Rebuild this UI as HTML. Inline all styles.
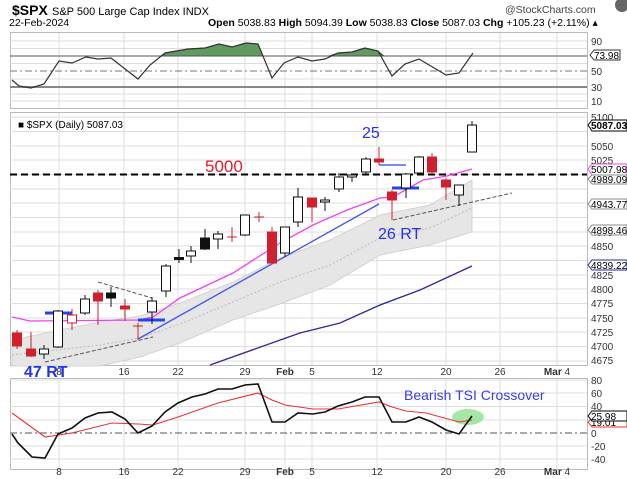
<!DOCTYPE html>
<html><head><meta charset="utf-8"><style>
body{margin:0;background:#fff}
svg{display:block;font-family:"Liberation Sans",sans-serif}
</style></head><body>
<svg width="627" height="479" viewBox="0 0 627 479" xmlns="http://www.w3.org/2000/svg">
<rect width="627" height="479" fill="#fff"/>
<text x="12" y="15" font-size="14" font-weight="bold">$SPX</text>
<text x="52" y="15" font-size="11">S&amp;P 500 Large Cap Index  INDX</text>
<text x="9" y="26" font-size="10.5">22-Feb-2024</text>
<text x="505" y="13" font-size="10.5" fill="#444">@StockCharts.com</text>
<text x="208" y="26" font-size="10.5"><tspan font-weight="bold">Open</tspan> 5038.83 <tspan font-weight="bold">High</tspan> 5094.39 <tspan font-weight="bold">Low</tspan> 5038.83 <tspan font-weight="bold">Close</tspan> 5087.03 <tspan font-weight="bold">Chg</tspan> +105.23 (+2.11%) ▴</text>
<circle cx="622" cy="5" r="7" fill="#666"/>

<g fill="none" stroke="#bbb" stroke-width="1">
<rect x="10.5" y="32.5" width="577" height="76"/>
<rect x="10.5" y="112.5" width="577" height="253"/>
<rect x="10.5" y="378.5" width="577" height="91"/>
</g>
<g stroke="#ddd" stroke-width="1">
<path d="M59 33V108M124 33V108M178 33V108M245 33V108M285 33V108M312 33V108M377 33V108M446 33V108M500 33V108M557 33V108"/>
<path d="M59 113V365M124 113V365M178 113V365M245 113V365M285 113V365M312 113V365M377 113V365M446 113V365M500 113V365M557 113V365"/>
<path d="M59 379V469M124 379V469M178 379V469M245 379V469M285 379V469M312 379V469M377 379V469M446 379V469M500 379V469M557 379V469"/>
<path d="M10 41H587M10 101H587M10 48.5H587M10 63.5H587M10 79H587M10 94H587"/>
<path d="M10 117H587M10 131.5H587M10 146H587M10 160H587M10 174.5H587M10 189H587M10 203H587M10 217.5H587M10 232H587M10 246H587M10 260.5H587M10 275H587M10 289H587M10 303.5H587M10 318H587M10 332H587M10 346.5H587M10 361H587"/>
<path d="M10 380H587M10 393H587M10 406.5H587M10 420H587M10 446H587M10 459H587"/>
</g>

<path d="M163 56 L165 53 188 49 205 48 219 44 232 47 246 43 258 44 263 56Z M329 56 L338 53 352 52 365 48 378 51 384 56Z" fill="#5f9a5f" stroke="#333" stroke-width="0.8"/>
<path d="M10 56H587" stroke="#555" stroke-width="1"/>
<path d="M10 87H587" stroke="#888" stroke-width="2"/>
<path d="M10 71H587" stroke="#777" stroke-dasharray="7 3 2 3"/>
<polyline fill="none" stroke="#333" stroke-width="1.2" points="12,80 19,86 31,88 44,84 59,61 72,63 86,57 98,59 111,58 138,79 150,65 165,53 188,49 205,48 219,44 232,47 246,43 258,44 272,78 284,63 298,57 312,61 325,59 338,53 352,52 365,48 378,51 392,76 405,64 419,59 446,75 459,73 473,53"/>
<g font-size="10" fill="#333">
<text x="591" y="45">90</text><text x="591" y="75">50</text><text x="591" y="91">30</text><text x="591" y="105">10</text>
</g>
<path d="M590 55 L594 50 H620 V60 H594Z" fill="#fff" stroke="#333"/>
<text x="594" y="59" font-size="10">73.98</text>

<polygon fill="#e6e6e6" stroke="#ccc" stroke-width="0.8" points="12,340 60,330 100,322 140,316 180,303 233,282 280,258 330,240 380,215 430,205 472,180 472,232 430,245 380,255 330,285 280,304 233,320 180,343 140,357 100,366 12,366"/>
<polyline fill="none" stroke="#bbb" stroke-dasharray="2 2" points="12,355 100,345 140,338 180,324 233,302 280,282 330,265 380,238 430,228 472,208"/>
<path d="M10 174.5H587" stroke="#000" stroke-width="2" stroke-dasharray="7 4"/>
<text x="205" y="172" font-size="17" fill="#e0202a">5000</text>
<polyline fill="none" stroke="#ee44ee" stroke-width="1.3" points="12,317 30,321 138,320 153,317 180,298 233,273 280,243 313,225 347,210 380,198 393,197 423,180 447,176 472,169"/>
<path d="M138 339 L379 204" stroke="#4455ee" stroke-width="1.3"/>
<polyline fill="none" stroke="#2a2a99" stroke-width="1.3" points="210,365 300,333 340,323 380,305 420,290 472,266"/>
<g stroke="#555" stroke-width="1" stroke-dasharray="4 2" fill="none">
<path d="M98 282L152 298M45 362L153 337M393 220L512 193"/>
</g>
<g stroke="#2244ee">
<path d="M45 313H72M138 320H165M392 188H419" stroke-width="3"/>
<path d="M379 165H406" stroke-width="1.3"/>
</g>

<g stroke-width="1">
<g stroke="#d0202e" fill="#d0202e">
<path d="M17 330V349M31 332V357M72 309V330M98 290V325M125 299V321M138 323V340M259 212V222M232 227V242M272 227V263M312 198V222M379 147V165M392 190V220M432 153V174M446 178V200"/>
<rect x="12.5" y="333" width="9" height="13"/><rect x="26.5" y="349" width="9" height="7"/>
<rect x="67.5" y="315" width="9" height="8" fill="#fff"/>
<rect x="93.5" y="293" width="9" height="8"/><rect x="120.5" y="306" width="9" height="3"/>
<path d="M133 326H143M227 237H237M254 217H264"/>
<rect x="267.5" y="232" width="9" height="31"/><rect x="307.5" y="198" width="9" height="9"/>
<rect x="374.5" y="159" width="9" height="3"/><rect x="387.5" y="192" width="9" height="8"/>
<rect x="427.5" y="157" width="9" height="15"/><rect x="441.5" y="180" width="9" height="7"/>
</g>
<g stroke="#111" fill="#fff">
<path d="M44 345V359M58 310V348M85 295V315M111 287V307M152 297V324M166 264V297M179 249V263M191 246V263M205 229V250M218 231V249M245 215V236M285 227V257M298 188V227M325 197V211M339 173V192M352 174V182M366 157V174M406 173V198M419 156V173M459 185V206M472 121V152"/>
<rect x="39.5" y="349" width="9" height="5"/><rect x="53.5" y="311" width="9" height="36"/>
<rect x="80.5" y="299" width="9" height="14"/><rect x="106.5" y="293" width="9" height="5" fill="#111"/>
<rect x="147.5" y="301" width="9" height="11"/><rect x="161.5" y="266" width="9" height="25"/>
<rect x="174.5" y="257.5" width="9" height="2" fill="#111"/><rect x="186.5" y="251" width="9" height="5"/>
<rect x="200.5" y="238" width="9" height="11" fill="#111"/><rect x="213.5" y="234" width="9" height="5"/>
<rect x="240.5" y="215" width="9" height="20"/><rect x="280.5" y="227" width="9" height="26"/>
<rect x="293.5" y="197" width="9" height="25"/><rect x="320.5" y="200" width="9" height="2"/>
<rect x="334.5" y="177" width="9" height="12"/><rect x="347.5" y="175" width="9" height="2"/>
<rect x="361.5" y="159" width="9" height="13"/><rect x="401.5" y="174" width="9" height="14"/>
<rect x="414.5" y="157" width="9" height="16"/><rect x="454.5" y="185" width="9" height="10"/>
<rect x="467.5" y="125" width="9" height="27"/>
</g>
</g>
<text x="362" y="138" font-size="16" fill="#2233ee">25</text>
<text x="378" y="239" font-size="16" fill="#2233ee">26 RT</text>
<text x="24" y="377" font-size="16" font-weight="bold" fill="#2233ee">47 RT</text>
<text x="18" y="128" font-size="10">■ $SPX (Daily) 5087.03</text>

<g font-size="10" fill="#333">
<text x="591" y="121">5100</text><text x="591" y="150">5050</text><text x="591" y="164">5025</text>
<text x="591" y="236">4875</text><text x="591" y="250">4850</text><text x="591" y="279">4825</text><text x="591" y="293">4800</text><text x="591" y="307">4775</text><text x="591" y="322">4750</text><text x="591" y="336">4725</text><text x="591" y="350">4700</text><text x="591" y="364">4675</text>
</g>
<g font-size="10">
<path d="M588 125 L592 120 H627 V131 H592Z" fill="#fff" stroke="#000"/><text x="591" y="129" font-weight="bold">5087.03</text>
<path d="M588 169 L592 164 H627 V175 H592Z" fill="#fff" stroke="#ee44ee"/><text x="591" y="173">5007.98</text>
<path d="M588 179 L592 175 H627 V184 H592Z" fill="#fff" stroke="#888"/><text x="591" y="183">4989.09</text>
<path d="M588 204 L592 199 H627 V209 H592Z" fill="#fff" stroke="#888"/><text x="591" y="208">4943.77</text>
<path d="M588 230 L592 225 H627 V235 H592Z" fill="#fff" stroke="#888"/><text x="591" y="234">4898.46</text>
<path d="M588 265 L592 260 H627 V270 H592Z" fill="#fff" stroke="#2a2a99"/><text x="591" y="269">4839.22</text>
</g>
<g font-size="10" fill="#333" text-anchor="middle">
<text x="59" y="375">8</text><text x="124" y="375">16</text><text x="178" y="375">22</text><text x="245" y="375">29</text><text x="285" y="375" font-weight="bold">Feb</text><text x="312" y="375">5</text><text x="377" y="375">12</text><text x="446" y="375">20</text><text x="500" y="375">26</text><text x="557" y="375"><tspan font-weight="bold">Mar</tspan> 4</text>
<text x="59" y="475">8</text><text x="124" y="475">16</text><text x="178" y="475">22</text><text x="245" y="475">29</text><text x="285" y="475" font-weight="bold">Feb</text><text x="312" y="475">5</text><text x="377" y="475">12</text><text x="446" y="475">20</text><text x="500" y="475">26</text><text x="557" y="475"><tspan font-weight="bold">Mar</tspan> 4</text>
</g>

<path d="M10 433H587" stroke="#555" stroke-dasharray="7 3 2 3"/>
<ellipse cx="468" cy="417" rx="16" ry="8" fill="#90e090" opacity="0.8"/>
<polyline fill="none" stroke="#ee3333" stroke-width="1.1" points="12,413 45,437 72,433 112,423 138,424 153,425 178,417 218,403 258,393 272,400 285,405 313,409 338,409 379,402 392,407 406,411 426,413 459,422 472,420"/>
<polyline fill="none" stroke="#111" stroke-width="1.6" points="12,434 18,443 32,457 45,458 58,434 72,428 85,418 98,413 112,412 125,419 138,433 152,426 165,412 178,403 192,397 205,394 218,389 232,389 245,385 258,384 272,422 285,422 298,413 313,414 325,412 338,406 352,402 365,397 379,397 392,422 406,422 419,417 432,422 446,430 459,434 472,416"/>
<text x="404" y="400" font-size="14" fill="#3a3aee">Bearish TSI Crossover</text>
<g font-size="10" fill="#333">
<text x="591" y="384">80</text><text x="591" y="397">60</text><text x="591" y="410">40</text><text x="591" y="437">0</text><text x="591" y="450">-20</text><text x="591" y="463">-40</text>
</g>
<path d="M588 422 L592 418 H627 V427 H592Z" fill="#fff" stroke="#ee3333"/><text x="591" y="426" font-size="10">19.01</text>
<path d="M588 416 L592 411 H627 V421 H592Z" fill="#fff" stroke="#000"/><text x="591" y="420" font-size="10">25.98</text>
</svg>
</body></html>
